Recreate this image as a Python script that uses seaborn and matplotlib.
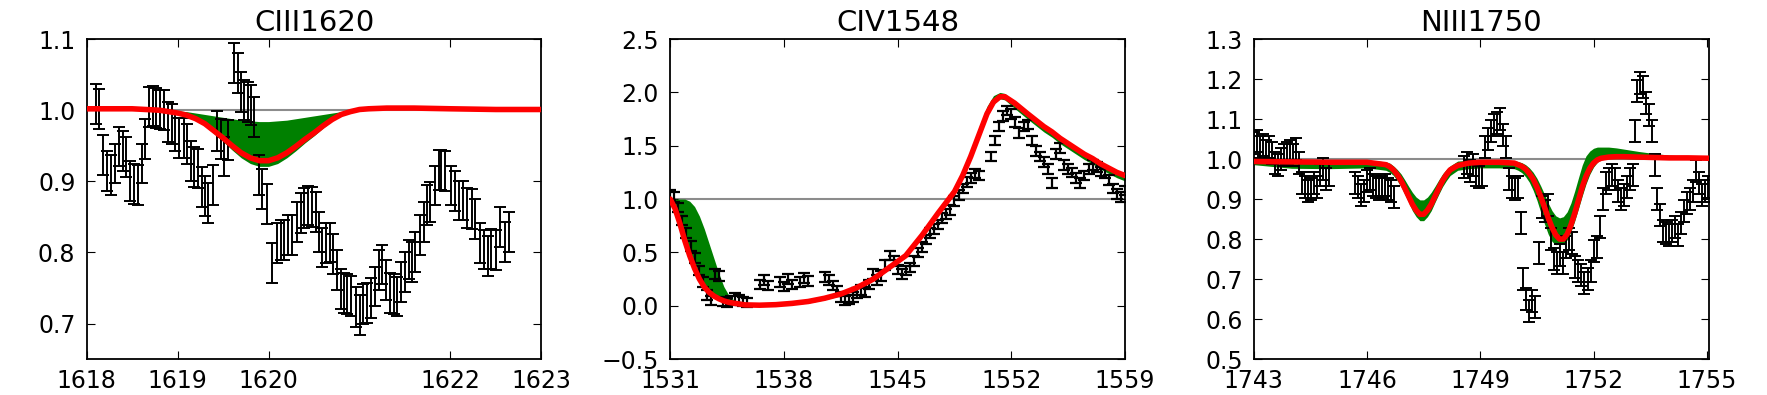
import numpy as np
import matplotlib
matplotlib.use("Agg")
import matplotlib.pyplot as plt
import seaborn as sns

# ---------------- data: panel 1 (CIII1620) ----------------
x1 = [1618.106, 1618.132, 1618.179, 1618.227, 1618.270, 1618.314, 1618.354, 1618.398, 1618.435, 1618.482,
      1618.526, 1618.563, 1618.607, 1618.643, 1618.691, 1618.727, 1618.764, 1618.811, 1618.848, 1618.892,
      1618.936, 1618.972, 1619.020, 1619.067, 1619.104, 1619.148, 1619.184, 1619.221, 1619.265, 1619.301,
      1619.338, 1619.385, 1619.433, 1619.477, 1619.513, 1619.557, 1619.615, 1619.659, 1619.696, 1619.732,
      1619.769, 1619.805, 1619.842, 1619.897, 1619.933, 1619.981, 1620.043, 1620.091, 1620.134, 1620.171,
      1620.215, 1620.262, 1620.310, 1620.354, 1620.390, 1620.434,
      1620.474, 1620.525, 1620.555, 1620.591, 1620.635, 1620.672, 1620.708, 1620.756, 1620.792, 1620.829,
      1620.865, 1620.902, 1620.957, 1621.001, 1621.037, 1621.085, 1621.121, 1621.169, 1621.213, 1621.249,
      1621.293, 1621.340, 1621.377, 1621.414, 1621.461, 1621.505, 1621.541, 1621.578, 1621.615, 1621.662,
      1621.706, 1621.743, 1621.779, 1621.827, 1621.870, 1621.900, 1621.944, 1622.006, 1622.053, 1622.097,
      1622.134, 1622.181, 1622.236, 1622.272, 1622.327, 1622.364, 1622.411, 1622.448, 1622.499, 1622.547,
      1622.594, 1622.638]
y1 = [1.009, 1.002, 0.937, 0.915, 0.909, 0.925, 0.949, 0.943, 0.934, 0.900,
      0.896, 0.895, 0.925, 0.960, 1.005, 1.006, 1.003, 1.001, 1.000, 0.983,
      0.981, 0.970, 0.961, 0.961, 0.952, 0.929, 0.920, 0.918, 0.892, 0.879,
      0.870, 0.895, 0.971, 0.960, 0.935, 0.958, 1.066, 1.052, 1.026, 1.014,
      1.012, 1.007, 0.991, 0.909, 0.889, 0.868, 0.785, 0.813, 0.817, 0.817,
      0.824, 0.824, 0.843, 0.855, 0.863, 0.866,
      0.864, 0.857, 0.829, 0.807, 0.813, 0.814, 0.798, 0.775, 0.748, 0.743,
      0.741, 0.739, 0.723, 0.712, 0.727, 0.729, 0.736, 0.752, 0.775, 0.783,
      0.761, 0.743, 0.741, 0.738, 0.758, 0.773, 0.790, 0.787, 0.801, 0.824,
      0.843, 0.867, 0.871, 0.894, 0.916, 0.916, 0.914, 0.894, 0.886, 0.873,
      0.873, 0.862, 0.861, 0.847, 0.813, 0.804, 0.795, 0.805, 0.803, 0.836,
      0.815, 0.829]
err1 = 0.028

m1_x = [1618.0, 1618.5, 1618.8, 1618.9, 1619.0, 1619.1, 1619.2, 1619.3, 1619.4, 1619.5, 1619.6, 1619.7,
        1619.8, 1619.9, 1620.0, 1620.1, 1620.2, 1620.3, 1620.4, 1620.5, 1620.6, 1620.7, 1620.8, 1620.9,
        1621.0, 1621.1, 1621.3, 1621.6, 1622.0, 1622.5, 1623.0]
m1_fit = [1.002, 1.002, 1.000, 0.998, 0.996, 0.993, 0.988, 0.981, 0.971, 0.961, 0.950, 0.940,
          0.933, 0.929, 0.929, 0.933, 0.940, 0.949, 0.959, 0.968, 0.978, 0.987, 0.994, 0.998,
          1.001, 1.002, 1.003, 1.003, 1.002, 1.001, 1.001]
m1_hi = [1.002, 1.002, 1.000, 1.000, 0.999, 0.998, 0.996, 0.994, 0.992, 0.990, 0.988, 0.986,
         0.985, 0.984, 0.984, 0.985, 0.986, 0.988, 0.990, 0.992, 0.994, 0.996, 0.998, 0.999,
         1.001, 1.002, 1.003, 1.003, 1.002, 1.001, 1.001]
m1_lo = [1.002, 1.002, 1.000, 0.998, 0.995, 0.992, 0.986, 0.978, 0.967, 0.956, 0.944, 0.933,
         0.925, 0.921, 0.921, 0.925, 0.933, 0.943, 0.954, 0.964, 0.975, 0.985, 0.993, 0.998,
         1.001, 1.002, 1.003, 1.003, 1.002, 1.001, 1.001]

# ---------------- data: panel 2 (CIV1548) ----------------
x2 = [1531.00, 1531.25, 1531.50, 1531.75, 1532.00, 1532.25, 1532.50, 1532.75, 1533.00, 1533.25,
      1533.50, 1533.75, 1534.00, 1534.25, 1534.50, 1534.75, 1535.00, 1535.25, 1535.50, 1535.75,
      1536.50, 1536.75, 1537.00, 1537.75, 1538.00, 1538.25, 1538.50, 1539.00, 1539.25, 1539.50,
      1540.50, 1540.75, 1541.00, 1541.25, 1541.50, 1541.75, 1542.00, 1542.25, 1542.50, 1542.75,
      1543.00, 1543.25, 1543.50, 1543.75, 1544.00, 1544.25, 1544.50, 1544.75, 1545.00, 1545.25,
      1545.50, 1545.75, 1546.00, 1546.25, 1546.50, 1546.75, 1547.00, 1547.25, 1547.50, 1547.75,
      1548.00, 1548.25, 1548.50, 1548.75, 1549.00, 1549.25, 1549.50, 1549.75, 1550.00,
      1550.75, 1551.00, 1551.25, 1551.50, 1551.75, 1552.00, 1552.25, 1552.50, 1552.75, 1553.00,
      1553.25, 1553.50, 1553.75, 1554.00, 1554.25, 1554.50, 1554.75, 1555.00, 1555.25, 1555.50,
      1555.75, 1556.00, 1556.25, 1556.50, 1556.75, 1557.00, 1557.25, 1557.50, 1557.75, 1558.00,
      1558.25, 1558.50, 1558.75, 1559.00]
y2 = [1.04, 1.02, 0.92, 0.80, 0.68, 0.56, 0.45, 0.33, 0.22, 0.10,
      0.05, 0.30, 0.28, 0.04, 0.03, 0.05, 0.07, 0.06, 0.04, 0.03,
      0.20, 0.24, 0.19, 0.22, 0.18, 0.25, 0.20, 0.22, 0.26, 0.23,
      0.27, 0.24, 0.19, 0.14, 0.08, 0.05, 0.06, 0.08, 0.12, 0.15,
      0.13, 0.20, 0.30, 0.24, 0.28, 0.38, 0.47, 0.42, 0.34, 0.30,
      0.33, 0.36, 0.42, 0.50, 0.55, 0.62, 0.68, 0.72, 0.76, 0.82,
      0.86, 0.90, 0.98, 1.04, 1.10, 1.16, 1.20, 1.24, 1.22,
      1.40, 1.55, 1.68, 1.78, 1.83, 1.80, 1.72, 1.62, 1.68, 1.70,
      1.55, 1.45, 1.40, 1.35, 1.28, 1.15, 1.42, 1.48, 1.32, 1.28,
      1.25, 1.20, 1.15, 1.22, 1.28, 1.32, 1.30, 1.26, 1.24, 1.18,
      1.10, 1.05, 1.02, 1.08]
err2 = 0.045

m2_x = [1531.0, 1531.3, 1531.6, 1531.9, 1532.2, 1532.5, 1532.8, 1533.1, 1533.4, 1533.7, 1534.0, 1534.3, 1534.6,
        1535.0, 1535.6, 1536.5, 1537.5, 1538.5, 1539.5, 1540.5, 1541.5, 1542.5, 1543.5, 1544.5, 1545.5, 1546.5, 1547.5,
        1548.0, 1548.5, 1549.0, 1549.5, 1550.0, 1550.5, 1550.9, 1551.3, 1551.6,
        1551.9, 1552.2, 1552.6, 1553.0, 1553.5, 1554.0, 1554.5, 1555.0, 1555.5, 1556.0, 1556.5, 1557.0,
        1557.5, 1558.0, 1558.5, 1559.0]
m2_fit = [1.00, 0.91, 0.77, 0.61, 0.47, 0.35, 0.25, 0.175, 0.125, 0.09, 0.065, 0.045, 0.032,
          0.022, 0.008, 0.005, 0.01, 0.022, 0.04, 0.07, 0.11, 0.17, 0.25, 0.36, 0.47, 0.66, 0.87,
          0.97, 1.07, 1.22, 1.40, 1.60, 1.80, 1.91, 1.96, 1.96,
          1.93, 1.90, 1.85, 1.80, 1.74, 1.68, 1.63, 1.57, 1.52, 1.47, 1.42, 1.38,
          1.33, 1.29, 1.25, 1.22]
m2_hi = [1.00, 1.00, 1.00, 1.00, 0.98, 0.93, 0.84, 0.72, 0.58, 0.44, 0.30, 0.18, 0.10,
         0.04, 0.015, 0.012, 0.02, 0.03, 0.05, 0.085, 0.13, 0.19, 0.27, 0.385, 0.50, 0.69, 0.90,
         1.01, 1.12, 1.27, 1.46, 1.67, 1.87, 1.97, 2.00, 1.99,
         1.95, 1.91, 1.86, 1.81, 1.75, 1.69, 1.64, 1.58, 1.53, 1.48, 1.43, 1.39,
         1.34, 1.30, 1.26, 1.23]
m2_lo = [0.99, 0.90, 0.76, 0.60, 0.46, 0.34, 0.24, 0.165, 0.115, 0.08, 0.055, 0.035, 0.022,
         0.012, 0.0, -0.003, 0.002, 0.01, 0.025, 0.055, 0.095, 0.155, 0.235, 0.345, 0.455, 0.645, 0.855,
         0.955, 1.05, 1.20, 1.38, 1.58, 1.78, 1.89, 1.94, 1.93,
         1.89, 1.85, 1.80, 1.75, 1.69, 1.63, 1.58, 1.52, 1.47, 1.42, 1.37, 1.33,
         1.28, 1.24, 1.20, 1.17]

# ---------------- data: panel 3 (NIII1750) ----------------
x3 = [1743.00, 1743.08, 1743.16, 1743.24, 1743.32, 1743.40, 1743.48, 1743.56, 1743.64, 1743.72,
      1743.80, 1743.88, 1743.96, 1744.04, 1744.12, 1744.20, 1744.28, 1744.36, 1744.44, 1744.52,
      1744.60, 1744.68, 1744.76, 1744.84, 1744.92, 1745.00,
      1745.68, 1745.76, 1745.84, 1745.92, 1746.00, 1746.08, 1746.16, 1746.24, 1746.32, 1746.40,
      1746.48, 1746.56, 1746.64, 1746.72,
      1748.56, 1748.64, 1748.72, 1748.80, 1748.88, 1748.96, 1749.04, 1749.12, 1749.20, 1749.28,
      1749.36, 1749.44, 1749.52, 1749.60, 1749.68, 1749.76, 1749.84, 1749.92, 1750.00, 1750.07,
      1750.12, 1750.20, 1750.28, 1750.36, 1750.44, 1750.56, 1750.64, 1750.72, 1750.80, 1750.88,
      1750.96, 1751.04, 1751.12, 1751.20, 1751.28, 1751.36, 1751.44, 1751.52, 1751.60, 1751.68,
      1751.76, 1751.84, 1751.92, 1752.00, 1752.08, 1752.16, 1752.24, 1752.32, 1752.40, 1752.48,
      1752.56, 1752.64, 1752.72, 1752.80, 1752.88, 1752.96, 1753.04, 1753.10, 1753.16, 1753.24,
      1753.32, 1753.40, 1753.48, 1753.56, 1753.62, 1753.68, 1753.76, 1753.84, 1753.92, 1754.00,
      1754.08, 1754.16, 1754.24, 1754.32, 1754.40, 1754.48, 1754.56, 1754.64, 1754.72, 1754.80,
      1754.88, 1754.96, 1755.04]
y3 = [1.040, 1.045, 1.030, 1.035, 1.020, 1.030, 1.015, 0.990, 0.985, 1.000,
      1.010, 1.015, 1.020, 1.010, 1.025, 0.990, 0.940, 0.930, 0.920, 0.925,
      0.940, 0.930, 0.960, 0.975, 0.950, 0.960,
      0.940, 0.930, 0.910, 0.920, 0.945, 0.950, 0.935, 0.930, 0.925, 0.930,
      0.935, 0.925, 0.920, 0.905,
      0.980, 0.990, 0.970, 0.985, 0.960, 0.955, 0.960, 1.030, 1.050, 1.070,
      1.085, 1.090, 1.100, 1.060, 1.030, 0.950, 0.930, 0.925, 0.930, 0.840,
      0.700, 0.650, 0.620, 0.645, 0.630, 0.765, 0.880, 0.870, 0.885, 0.800,
      0.750, 0.740, 0.760, 0.740, 0.780, 0.800, 0.790, 0.730, 0.720, 0.710,
      0.690, 0.700, 0.720, 0.770, 0.780, 0.830, 0.900, 0.940, 0.950, 0.960,
      0.950, 0.920, 0.900, 0.910, 0.930, 0.950, 0.960, 1.070, 1.170, 1.190,
      1.180, 1.140, 1.110, 1.070, 0.985, 0.900, 0.860, 0.820, 0.815, 0.810,
      0.820, 0.830, 0.810, 0.840, 0.870, 0.890, 0.900, 0.920, 0.970, 0.940,
      0.910, 0.920, 0.930]
err3 = 0.027

m3_x = [1743.0, 1744.0, 1745.0, 1746.0,
        1746.5, 1746.6, 1746.7, 1746.8, 1746.9, 1747.0, 1747.1, 1747.2, 1747.3, 1747.4, 1747.5, 1747.6,
        1747.7, 1747.8, 1747.9, 1748.0, 1748.1, 1748.2,
        1748.4, 1748.7, 1749.0, 1749.5, 1749.9,
        1750.0, 1750.1, 1750.2, 1750.3, 1750.4, 1750.5, 1750.6, 1750.7, 1750.8, 1750.9, 1751.0, 1751.1,
        1751.2, 1751.3, 1751.4, 1751.5, 1751.6, 1751.7, 1751.8, 1751.9, 1752.0, 1752.1, 1752.2,
        1752.4, 1752.6, 1752.8, 1753.2, 1753.6, 1754.0, 1754.5, 1755.1]
m3_fit = [0.994, 0.993, 0.992, 0.992,
          0.986, 0.981, 0.973, 0.961, 0.946, 0.927, 0.907, 0.887, 0.872, 0.862, 0.862, 0.872,
          0.887, 0.907, 0.927, 0.946, 0.961, 0.973,
          0.984, 0.990, 0.992, 0.992, 0.990,
          0.986, 0.982, 0.975, 0.964, 0.950, 0.930, 0.906, 0.880, 0.853, 0.829, 0.810, 0.800,
          0.800, 0.812, 0.835, 0.864, 0.897, 0.930, 0.957, 0.977, 0.990, 0.998, 1.002,
          1.005, 1.006, 1.006, 1.005, 1.004, 1.003, 1.003, 1.002]
m3_hi = [0.998, 0.998, 0.998, 0.998,
         0.993, 0.990, 0.983, 0.974, 0.963, 0.948, 0.932, 0.917, 0.905, 0.898, 0.898, 0.905,
         0.917, 0.932, 0.948, 0.963, 0.974, 0.983,
         0.995, 0.997, 0.997, 0.997, 0.996,
         0.994, 0.991, 0.986, 0.978, 0.967, 0.952, 0.933, 0.912, 0.890, 0.871, 0.858, 0.853,
         0.856, 0.868, 0.890, 0.920, 0.953, 0.985, 1.008, 1.020, 1.027, 1.030, 1.030,
         1.030, 1.028, 1.025, 1.019, 1.014, 1.010, 1.007, 1.005]
m3_lo = [0.986, 0.977, 0.976, 0.978,
         0.972, 0.967, 0.959, 0.946, 0.931, 0.912, 0.892, 0.871, 0.856, 0.846, 0.846, 0.856,
         0.871, 0.892, 0.912, 0.931, 0.946, 0.959,
         0.972, 0.976, 0.978, 0.978, 0.976,
         0.972, 0.966, 0.956, 0.942, 0.922, 0.897, 0.867, 0.838, 0.812, 0.794, 0.786, 0.787,
         0.787, 0.798, 0.818, 0.845, 0.876, 0.908, 0.938, 0.962, 0.980, 0.992, 0.998,
         1.001, 1.001, 1.001, 1.000, 1.000, 1.000, 1.000, 1.000]

titles = ["CIII1620", "CIV1548", "NIII1750"]
xlims = [(1618, 1623), (1531, 1559), (1743, 1755.05)]
ylims = [(0.65, 1.1), (-0.5, 2.5), (0.5, 1.3)]
xticks = [[1618, 1619, 1620, 1622, 1623], [1531, 1538, 1545, 1552, 1559], [1743, 1746, 1749, 1752, 1755]]
yticks = [[0.7, 0.8, 0.9, 1.0, 1.1], [-0.5, 0.0, 0.5, 1.0, 1.5, 2.0, 2.5],
          [0.5, 0.6, 0.7, 0.8, 0.9, 1.0, 1.1, 1.2, 1.3]]
capsizes = [4, 4.5, 4]
ewidths = [1.4, 1.6, 1.4]

# ---------------- style ----------------
sns.set_theme(style="white", rc={
    "xtick.direction": "in", "ytick.direction": "in",
    "xtick.top": True, "ytick.right": True,
    "xtick.bottom": True, "ytick.left": True,
    "xtick.major.size": 6, "ytick.major.size": 6,
    "xtick.major.width": 0.8, "ytick.major.width": 0.8,
    "xtick.major.pad": 7, "ytick.major.pad": 8,
    "axes.edgecolor": "black", "axes.linewidth": 1.3,
    "xtick.color": "black", "ytick.color": "black",
    "text.color": "black", "axes.labelcolor": "black",
})
plt.rcParams["font.family"] = ["DejaVu Sans"]

fig, axes = plt.subplots(1, 3, figsize=(17.67, 3.95), dpi=100)
fig.subplots_adjust(left=0.049, right=0.967, bottom=0.091, top=0.901, wspace=0.283)

panels = [
    (x1, y1, err1, m1_x, m1_fit, m1_hi, m1_lo),
    (x2, y2, err2, m2_x, m2_fit, m2_hi, m2_lo),
    (x3, y3, err3, m3_x, m3_fit, m3_hi, m3_lo),
]

for i, (ax, (xd, yd, ed, mx, mfit, mhi, mlo)) in enumerate(zip(axes, panels)):
    ax.axhline(1.0, color="#8c8c8c", lw=1.5, zorder=0.5)
    ax.fill_between(mx, mlo, mhi, color="#008000", lw=0, zorder=1)
    ax.errorbar(xd, yd, yerr=ed, fmt="none", ecolor="black", elinewidth=ewidths[i],
                capsize=capsizes[i], capthick=ewidths[i], zorder=2)
    sns.lineplot(x=mx, y=mfit, ax=ax, color="red", lw=4, zorder=3,
                 sort=False, estimator=None)
    ax.set_xlim(*xlims[i])
    ax.set_ylim(*ylims[i])
    ax.set_xticks(xticks[i])
    ax.set_xticklabels([str(t) for t in xticks[i]])
    ax.set_yticks(yticks[i])
    ax.set_yticklabels([f"{t:.1f}".replace("-", "\u2212") for t in yticks[i]])
    ax.tick_params(labelsize=17, colors="black")
    ax.set_title(titles[i], fontsize=21, pad=6, color="black")
    ax.set_xlabel("")
    ax.set_ylabel("")
    for s in ax.spines.values():
        s.set_visible(True)

fig.savefig("out.png", dpi=100)
